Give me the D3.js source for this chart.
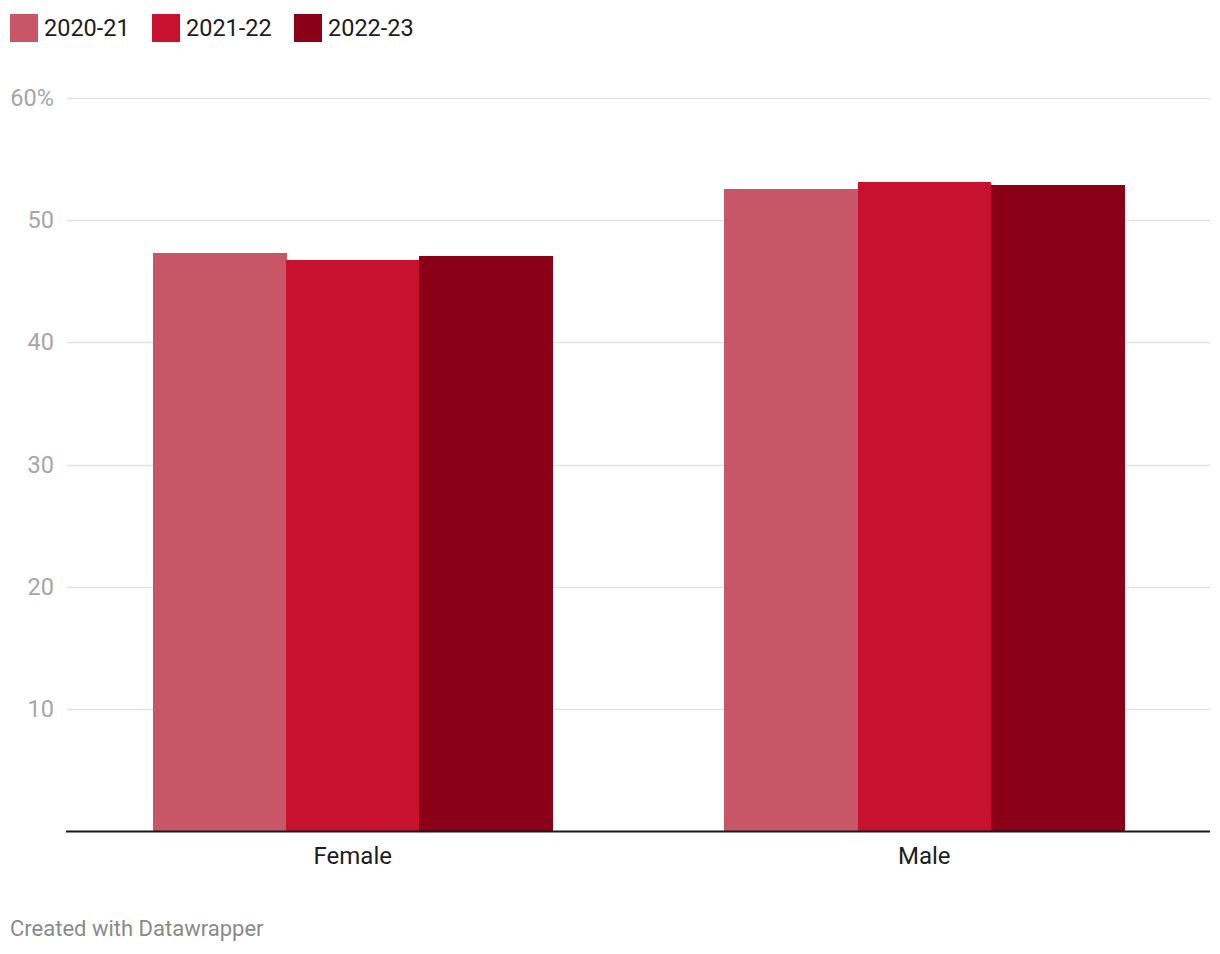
<!DOCTYPE html>
<html>
<head>
<meta charset="utf-8">
<script src="https://cdn.jsdelivr.net/npm/d3@7"></script>
<style>
  body { margin: 0; background: #fff; font-family: Roboto, "Noto Sans", sans-serif; }
  svg { display: block; }
</style>
</head>
<body>
<svg id="chart" width="1220" height="954"></svg>
<script>
const categories = ["Female", "Male"];
const seriesNames = ["2020-21", "2021-22", "2022-23"];
const values2020 = [47.3, 52.55];
const values2021 = [46.75, 53.1];
const values2022 = [47.05, 52.9];
const seriesColors = ["#c85667", "#c8112f", "#8a0016"];
const yTicks = [10, 20, 30, 40, 50, 60];
const yTickLabels = ["10", "20", "30", "40", "50", "60%"];
const footerText = "Created with Datawrapper";

const seriesValues = [values2020, values2021, values2022];
const svg = d3.select("#chart");
const plot = { left: 67, right: 1210, top: 98, bottom: 831 };

const x0 = d3.scaleBand().domain(categories).range([plot.left, plot.right]).paddingInner(0.3).paddingOuter(0.15);
const x1 = d3.scaleBand().domain(seriesNames).range([0, x0.bandwidth()]).padding(0);
const y = d3.scaleLinear().domain([0, 60]).range([plot.bottom, plot.top]);

// gridlines
const grid = svg.append("g");
grid.selectAll("line").data(yTicks).join("line")
  .attr("x1", plot.left).attr("x2", plot.right)
  .attr("y1", d => Math.round(y(d)) + 0.5).attr("y2", d => Math.round(y(d)) + 0.5)
  .attr("stroke", "#e3e3e3").attr("stroke-width", 1.5);

// y tick labels
svg.append("g").selectAll("text").data(yTicks).join("text")
  .attr("x", 54).attr("y", d => y(d))
  .attr("text-anchor", "end").attr("dominant-baseline", "central")
  .attr("fill", "#a6a6a6").attr("font-size", 23.5)
  .text((d, i) => yTickLabels[i]);

// bars
const groups = svg.append("g").selectAll("g").data(categories).join("g")
  .attr("transform", d => `translate(${x0(d)},0)`);
groups.selectAll("rect").data((c, ci) => seriesNames.map((s, si) => ({ s, v: seriesValues[si][ci], color: seriesColors[si] })))
  .join("rect")
  .attr("shape-rendering", "crispEdges")
  .attr("x", d => x1(d.s)).attr("width", x1.bandwidth() + 0.5)
  .attr("y", d => y(d.v)).attr("height", d => y(0) - y(d.v))
  .attr("fill", d => d.color);

// baseline
svg.append("line").attr("x1", 66).attr("x2", plot.right)
  .attr("y1", y(0) + 0.5).attr("y2", y(0) + 0.5)
  .attr("stroke", "#1a1a1a").attr("stroke-width", 2);

// x axis labels
const xAxis = d3.axisBottom(x0).tickSize(0).tickPadding(0);
const xg = svg.append("g").attr("transform", `translate(0,${plot.bottom})`).call(xAxis);
xg.select(".domain").remove();
xg.selectAll("text").attr("font-family", "Roboto, sans-serif").attr("font-size", 24)
  .attr("fill", "#1d1d1d").attr("dy", null).attr("y", 33);

// legend
const legendX = [10, 152, 294];
const legend = svg.append("g").selectAll("g").data(seriesNames).join("g")
  .attr("transform", (d, i) => `translate(${legendX[i]},14)`);
legend.append("rect").attr("width", 28).attr("height", 28).attr("fill", (d, i) => seriesColors[i]);
legend.append("text").attr("x", 34).attr("y", 14).attr("dominant-baseline", "central")
  .attr("font-size", 23.5).attr("fill", "#1d1d1d").text(d => d);

// footer
svg.append("text").attr("x", 10).attr("y", 936).attr("font-size", 22)
  .attr("fill", "#8a8a8a").text(footerText);
</script>
</body>
</html>
